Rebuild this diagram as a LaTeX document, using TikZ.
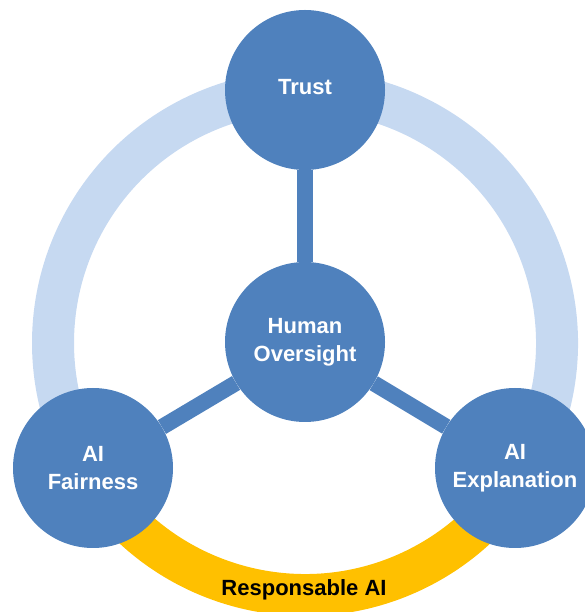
\documentclass[tikz,border=0pt]{standalone}
\usepackage{fontspec}
\setmainfont{Liberation Sans}
\definecolor{nodeblue}{HTML}{4F81BD}
\definecolor{ringblue}{HTML}{C6D9F1}
\definecolor{ringgold}{HTML}{FFC000}
\tikzset{
  pillar/.style={circle, fill=nodeblue, minimum size=160pt, inner sep=0pt,
    text=white, align=center, font=\fontsize{22}{28}\selectfont\bfseries},
  spoke/.style={nodeblue, line width=16pt},
  band/.style={line width=42pt},
}
\begin{document}
\begin{tikzpicture}[x=1pt, y=1pt]
  \useasboundingbox (0,0) rectangle (585,612);
  % Ring
  \draw[band, ringblue] (305,269) ++(-31:252) arc[start angle=-31, end angle=211, radius=252];
  \draw[band, ringgold] (305,269) ++(209:252) arc[start angle=209, end angle=331, radius=252];
  % Circles
  \node[pillar] (oversight) at (305,270) {Human\\Oversight};
  \node[pillar] (trust) at (305,522) {\raisebox{6pt}{Trust}};
  \node[pillar] (fairness) at (93,144) {AI\\Fairness};
  \node[pillar] (explanation) at (515,144) {AI\\Explanation};
  % Spokes
  \draw[spoke] (oversight) -- (trust);
  \draw[spoke] (oversight) -- (fairness);
  \draw[spoke] (oversight) -- (explanation);
  % Label
  \node[font=\fontsize{22}{28}\selectfont\bfseries, text=black] (ring label) at (304,22) {Responsable AI};
\end{tikzpicture}
\end{document}
